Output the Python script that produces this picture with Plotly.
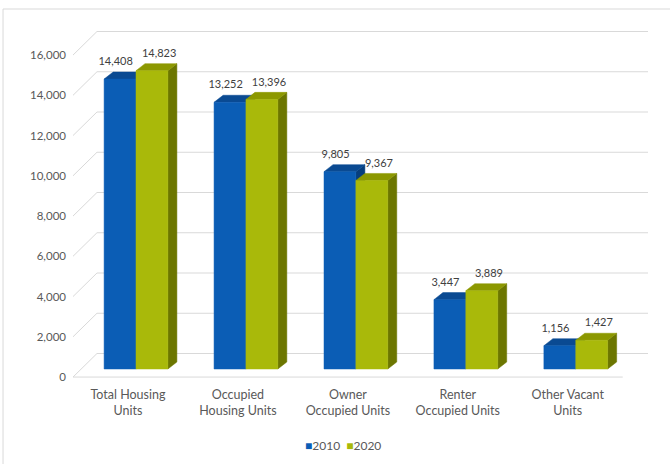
import plotly.graph_objects as go

categories = ["Total Housing<br>Units", "Occupied<br>Housing Units", "Owner<br>Occupied Units",
              "Renter<br>Occupied Units", "Other Vacant<br>Units"]
series_names = ["2010", "2020"]
values_2010 = [14408, 13252, 9805, 3447, 1156]
values_2020 = [14823, 13396, 9367, 3889, 1427]
y_ticks = [0, 2000, 4000, 6000, 8000, 10000, 12000, 14000, 16000]

# colours: front, top, side
colors = {
    "2010": ("#0b5db5", "#0a4a92", "#073e7d"),
    "2020": ("#a9b90a", "#8c9800", "#6c7600"),
}

# 3D styling (in axis units)
bar_w = 0.29
pair_shift = 0.073
ddx = 0.082      # bar depth in x
ddy = 350        # bar depth in y units
label_gap = 200  # extra lift of value labels
label_dx = (-0.04, 0.065)  # horizontal nudge of value labels per series
front_off = -400  # floor front edge offset
back_off = 770    # back wall offset
wall_dx = 0.218   # side wall depth in x
x_lo, x_hi = -0.5, 4.73

fig = go.Figure()

# gridlines (side wall diagonal + back wall)
gx, gy = [], []
for v in y_ticks:
    gx += [x_lo, x_lo + wall_dx, x_hi, None]
    gy += [v + front_off, v + back_off, v + back_off, None]
gx += [x_lo, len(categories) - 0.5, None]
gy += [front_off, front_off, None]
fig.add_trace(go.Scatter(x=gx, y=gy, mode="lines", line=dict(color="#d9d9d9", width=1),
                         hoverinfo="skip", showlegend=False))

def poly_trace(xs, ys, color, name=None):
    return go.Scatter(x=xs, y=ys, mode="lines", fill="toself", fillcolor=color,
                      line=dict(color=color, width=0.5), hoverinfo="skip",
                      showlegend=False, name=name)

label_x, label_y, label_t = [], [], []
for i in range(len(categories)):
    for s, (name, vals) in enumerate(zip(series_names, [values_2010, values_2020])):
        v = vals[i]
        xl = i + pair_shift - bar_w + s * bar_w
        xr = xl + bar_w
        front, top, side = colors[name]
        fig.add_trace(poly_trace([xr, xr, xr + ddx, xr + ddx, xr],
                                 [0, v, v + ddy, ddy, 0], side))
        fig.add_trace(poly_trace([xl, xr, xr + ddx, xl + ddx, xl],
                                 [v, v, v + ddy, v + ddy, v], top))
        fig.add_trace(poly_trace([xl, xr, xr, xl, xl], [0, 0, v, v, 0], front, name))
        label_x.append((xl + xr) / 2 + label_dx[s])
        label_y.append(v + ddy + label_gap)
        label_t.append(f"{v:,}")

fig.add_trace(go.Scatter(x=label_x, y=label_y, text=label_t, mode="text",
                         textposition="top center",
                         textfont=dict(size=11, color="#404040", family="Lato"),
                         hoverinfo="skip", showlegend=False))

k = 322 / 16000  # px per unit
y_lo = -(380 - 369) / k
y_hi = (369 - 30) / k

legend_text = "  ".join(
    f"<span style='color:{colors[n][0]}'>■</span>{n}" for n in series_names)

fig.update_layout(
    width=670, height=464,
    margin=dict(l=73, r=22, t=30, b=84, autoexpand=False),
    paper_bgcolor="white", plot_bgcolor="white",
    font=dict(family="Lato", color="#595959"),
    showlegend=False,
    xaxis=dict(range=[x_lo, x_hi], tickvals=list(range(len(categories))), ticktext=categories,
               showgrid=False, zeroline=False, showline=False, ticks="", automargin=False,
               ticklabelstandoff=5,
               tickfont=dict(size=12.5, color="#595959")),
    yaxis=dict(range=[y_lo, y_hi], tickvals=[v + front_off for v in y_ticks],
               ticktext=[f"{v:,}" for v in y_ticks], showgrid=False, zeroline=False,
               showline=False, ticks="", ticklabelstandoff=6, automargin=False,
               tickfont=dict(size=11.5, color="#595959")),
    annotations=[dict(text=legend_text, xref="paper", yref="paper", x=0.47, y=-0.186,
                      xanchor="center", yanchor="middle", showarrow=False,
                      font=dict(size=12, color="#595959", family="Lato"))],
    shapes=[dict(type="rect", xref="paper", yref="paper",
                 x0=-0.1217, x1=1.045, y0=-0.26, y1=1.06,
                 line=dict(color="#d9d9d9", width=1), layer="below")],
)

fig.write_html("out.html")
